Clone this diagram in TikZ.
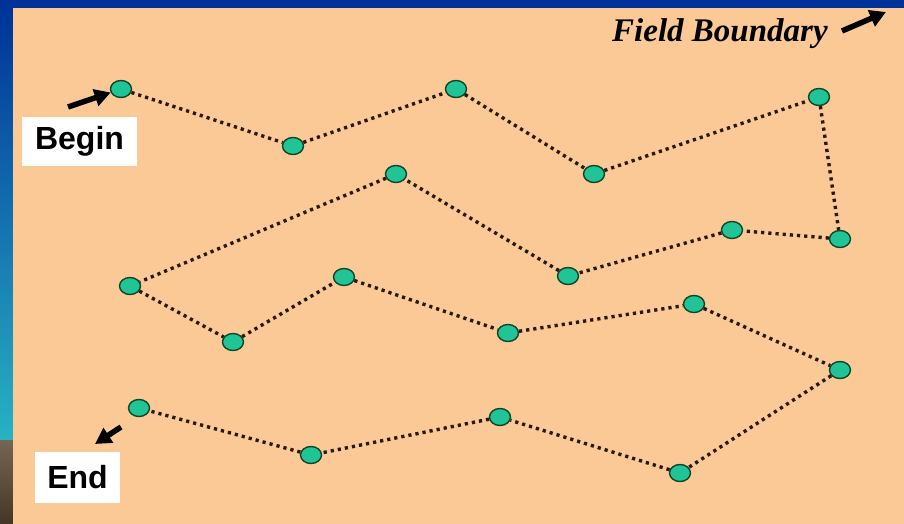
\documentclass[tikz,border=0pt]{standalone}
\usepackage{fontspec}
\setmainfont{Liberation Serif}
\newfontfamily\labelsans{Liberation Sans}
\usetikzlibrary{shapes.geometric,arrows.meta}
\definecolor{navy}{RGB}{0,51,153}
\definecolor{tealbg}{RGB}{40,178,196}
\definecolor{brownbg}{RGB}{98,78,52}
\definecolor{tan}{RGB}{251,201,150}
\definecolor{ptfill}{RGB}{32,196,150}
\definecolor{ptdraw}{RGB}{15,70,40}
\definecolor{dotcol}{RGB}{40,25,12}
\tikzset{
  pt/.style={ellipse, draw=ptdraw, line width=1.4pt, fill=ptfill, minimum width=21pt, minimum height=17pt, inner sep=0pt},
  route/.style={draw=dotcol, line width=3.4pt, dash pattern=on 3.2pt off 4pt},
  tag/.style={fill=white, inner sep=0pt, font=\labelsans\bfseries\fontsize{32}{32}\selectfont},
  pointer/.style={line width=5.5pt, -{Triangle[length=16pt,width=17pt]}}
}
\begin{document}
\begin{tikzpicture}[x=1pt,y=-1pt]
\useasboundingbox (0,0) rectangle (904,524);
% background
\fill[navy] (0,0) rectangle (904,524);
\shade[top color=navy, bottom color=tealbg] (0,8) rectangle (13,440);
\shade[top color=brownbg!80!white!90!black, bottom color=brownbg!70!black] (0,440) rectangle (13,524);
\fill[tan] (13,8) rectangle (904,524);
% points
\node[pt] (p1) at (121,89) {};
\node[pt] (p2) at (293,146) {};
\node[pt] (p3) at (456,89) {};
\node[pt] (p4) at (594,174) {};
\node[pt] (p5) at (819,97) {};
\node[pt] (p6) at (840,239) {};
\node[pt] (p7) at (732,230) {};
\node[pt] (p8) at (568,276) {};
\node[pt] (p9) at (396,174) {};
\node[pt] (p10) at (130,286) {};
\node[pt] (p11) at (233,342) {};
\node[pt] (p12) at (344,277) {};
\node[pt] (p13) at (508,333) {};
\node[pt] (p14) at (694,304) {};
\node[pt] (p15) at (840,370) {};
\node[pt] (p16) at (680,473) {};
\node[pt] (p17) at (500,417) {};
\node[pt] (p18) at (311,455) {};
\node[pt] (p19) at (139,408) {};
\foreach \a/\b in {1/2,2/3,3/4,4/5,5/6,6/7,7/8,8/9,9/10,10/11,11/12,12/13,13/14,14/15,15/16,16/17,17/18,18/19}
  \path[route] (p\a) -- (p\b);
% labels
\node[tag, minimum width=115pt, minimum height=49pt] (begin) at (79.5,141.5) {Begin};
\node[tag, minimum width=85pt, minimum height=51pt] (end) at (77.5,477.5) {End};
\node[font=\bfseries\itshape\fontsize{33}{33}\selectfont, anchor=base west, inner sep=0pt] (fb) at (612,42) {Field Boundary};
\coordinate (bt) at (68,107);
\coordinate (et) at (121,427);
\coordinate (eh) at (95,444);
\coordinate (ft) at (842,31);
\coordinate (fh) at (886,12);
\draw[pointer] (bt) -- (p1);
\draw[pointer] (et) -- (eh);
\draw[pointer] (ft) -- (fh);
\end{tikzpicture}
\end{document}
